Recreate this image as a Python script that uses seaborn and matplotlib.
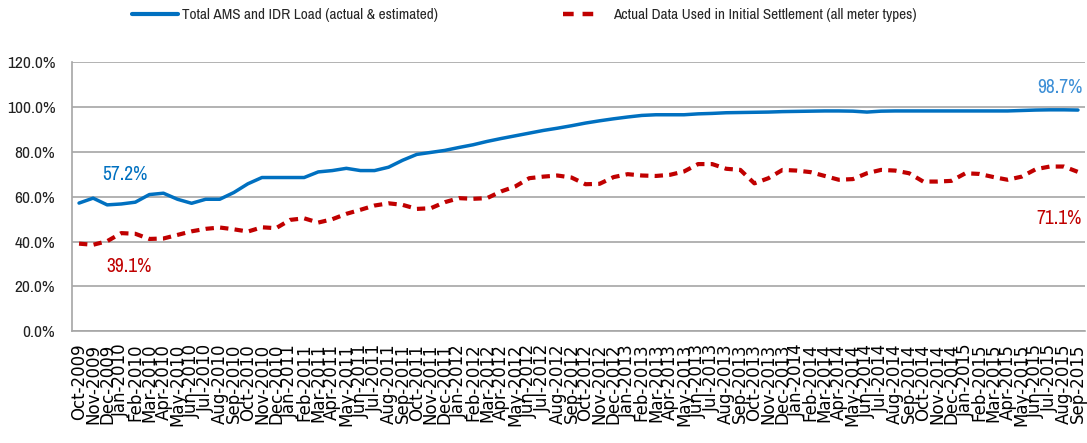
import matplotlib
matplotlib.use("Agg")
import matplotlib.pyplot as plt
from matplotlib import font_manager
import seaborn as sns
import pandas as pd
import numpy as np
from matplotlib.ticker import FixedLocator, FuncFormatter
from matplotlib.lines import Line2D

month_names = ["Jan", "Feb", "Mar", "Apr", "May", "Jun",
               "Jul", "Aug", "Sep", "Oct", "Nov", "Dec"]
labels = []
y, m = 2009, 9
for k in range(72):
    labels.append(f"{month_names[m]}-{y}")
    m += 1
    if m == 12:
        m = 0
        y += 1

total_load = [57.2, 59.4, 56.4, 56.8, 57.6, 61.0, 61.6, 58.9, 57.1, 58.9,
              58.9, 61.9, 65.8, 68.6, 68.6, 68.6, 68.6, 71.1, 71.7, 72.7,
              71.7, 71.7, 73.2, 76.3, 78.9, 79.8, 80.7, 82.0, 83.2, 84.7,
              86.0, 87.2, 88.4, 89.6, 90.6, 91.7, 92.9, 93.9, 94.8, 95.6,
              96.3, 96.6, 96.6, 96.6, 97.0, 97.2, 97.5, 97.6, 97.7, 97.8,
              98.0, 98.1, 98.2, 98.3, 98.3, 98.2, 97.8, 98.2, 98.3, 98.3,
              98.3, 98.3, 98.3, 98.3, 98.3, 98.3, 98.3, 98.5, 98.7, 98.8,
              98.8, 98.7]
actual_data = [39.1, 38.6, 40.2, 43.8, 43.5, 41.2, 41.4, 43.0, 44.6, 45.7,
               46.3, 45.5, 44.5, 46.4, 46.0, 49.7, 50.4, 48.5, 50.0, 52.4,
               54.2, 56.1, 57.1, 56.4, 54.6, 54.9, 57.6, 59.4, 59.1, 59.4,
               62.4, 64.6, 68.3, 69.0, 69.5, 68.6, 65.6, 65.8, 68.8, 70.1,
               69.5, 69.3, 69.8, 71.3, 74.6, 74.6, 72.5, 72.0, 66.0, 68.3,
               72.0, 71.7, 71.0, 69.3, 67.6, 67.9, 70.5, 72.0, 71.7, 70.5,
               66.8, 66.8, 67.1, 70.5, 70.2, 68.8, 67.6, 69.0, 72.3, 73.5,
               73.5, 71.1]

series_names = ["Total AMS and IDR Load (actual & estimated)",
                "Actual Data Used in Initial Settlement (all meter types)"]

df = pd.DataFrame({
    "idx": list(range(len(labels))) * 2,
    "value": total_load + actual_data,
    "series": [series_names[0]] * len(labels) + [series_names[1]] * len(labels),
})

sns.set_style("white")
plt.rcParams["font.family"] = ["DejaVu Sans"]

# pick a condensed font if one is installed
narrow_name = None
for f in font_manager.fontManager.ttflist:
    nm = f.name
    if ("Narrow" in nm or "Condensed" in nm) and narrow_name is None:
        narrow_name = nm
cond_stretch = None
if narrow_name is None:
    for f in font_manager.fontManager.ttflist:
        if f.stretch in ("condensed", "semi-condensed", "extra-condensed") or \
           (isinstance(f.stretch, int) and f.stretch < 500):
            narrow_name = f.name
            cond_stretch = f.stretch
            break
have_narrow = narrow_name is not None
narrow = [narrow_name, "Liberation Sans"] if have_narrow else ["Liberation Sans"]
stretch = cond_stretch if cond_stretch is not None else "normal"
scale = 1.0 if have_narrow else 0.82

fig = plt.figure(figsize=(10.87, 4.43), dpi=100)
ax = fig.add_axes([72 / 1087, 111.7 / 443, 1013 / 1087, 269.0 / 443])

blue = "#0070C0"
red = "#C00000"
sns.lineplot(data=df, x="idx", y="value", hue="series", style="series",
             palette=[blue, red], dashes=[(None, None), (2.0, 1.5)],
             linewidth=3, ax=ax, legend=False)
lines = ax.get_lines()
lines[0].set_linewidth(2.5)
lines[1].set_linewidth(3.0)
lines[1].set_dashes((2.0, 1.5))

ax.set_xlim(-0.5, len(labels) - 0.5)
ax.set_ylim(0, 120)
ax.set_xlabel("")
ax.set_ylabel("")

ax.yaxis.set_major_locator(FixedLocator([0, 20, 40, 60, 80, 100, 120]))
ax.yaxis.set_major_formatter(FuncFormatter(lambda v, p: f"{v:.1f}%"))
ax.grid(axis="y", color="#a6a6a6", linewidth=1.2)
ax.set_axisbelow(True)
for lab in ax.get_yticklabels():
    lab.set_family(narrow)
    lab.set_stretch(stretch)
    lab.set_fontsize(12.5 * scale + (0 if have_narrow else 0.5))
    lab.set_color("#222222")
ax.tick_params(axis="y", length=5, color="#a6a6a6", width=1.2, pad=7)

ax.set_xticks(np.arange(len(labels)))
ax.set_xticklabels(labels, rotation=90, fontsize=12, color="black",
                   family="DejaVu Sans")
ax.tick_params(axis="x", which="major", length=0, pad=9)
ax.set_xticks(np.arange(len(labels) + 1) - 0.5, minor=True)
ax.tick_params(axis="x", which="minor", length=6, color="#a6a6a6", width=1.2)

for s in ["top", "right"]:
    ax.spines[s].set_visible(False)
for s in ["left", "bottom"]:
    ax.spines[s].set_color("#a6a6a6")
    ax.spines[s].set_linewidth(1.2)

# annotations
afs = 14 * scale + (0 if have_narrow else 0.5)
ax.text(3.27, total_load[0] + 12.6, f"{total_load[0]:.1f}%", color=blue, fontsize=afs,
        family=narrow, stretch=stretch, fontweight="bold", ha="center", va="center")
ax.text(3.55, actual_data[0] - 10.4, f"{actual_data[0]:.1f}%", color=red, fontsize=afs,
        family=narrow, stretch=stretch, fontweight="bold", ha="center", va="center")
ax.text(71.3, total_load[-1] + 9.9, f"{total_load[-1]:.1f}%", color="#3d8fd6", fontsize=afs,
        family=narrow, stretch=stretch, ha="right", va="center")
ax.text(71.3, actual_data[-1] - 21.0, f"{actual_data[-1]:.1f}%", color=red, fontsize=afs,
        family=narrow, stretch=stretch, fontweight="bold", ha="right", va="center")

# legend at top (two single-entry legends positioned like the reference)
lfs = 11 if have_narrow else 9
fig.legend([Line2D([], [], color=blue, linewidth=3)], [series_names[0]],
           loc="center left", bbox_to_anchor=(132 / 1087, 1 - 15 / 443),
           frameon=False, handlelength=3.0, handletextpad=0.25,
           borderaxespad=0, borderpad=0,
           prop={"family": narrow, "size": lfs, "stretch": stretch})
fig.legend([Line2D([], [], color=red, linewidth=3.2, dashes=(2.4, 2.0))], [series_names[1]],
           loc="center left", bbox_to_anchor=(563 / 1087, 1 - 15 / 443),
           frameon=False, handlelength=2.4, handletextpad=0.9,
           borderaxespad=0, borderpad=0,
           prop={"family": narrow, "size": lfs, "stretch": stretch})

fig.savefig("out.png", dpi=100)
